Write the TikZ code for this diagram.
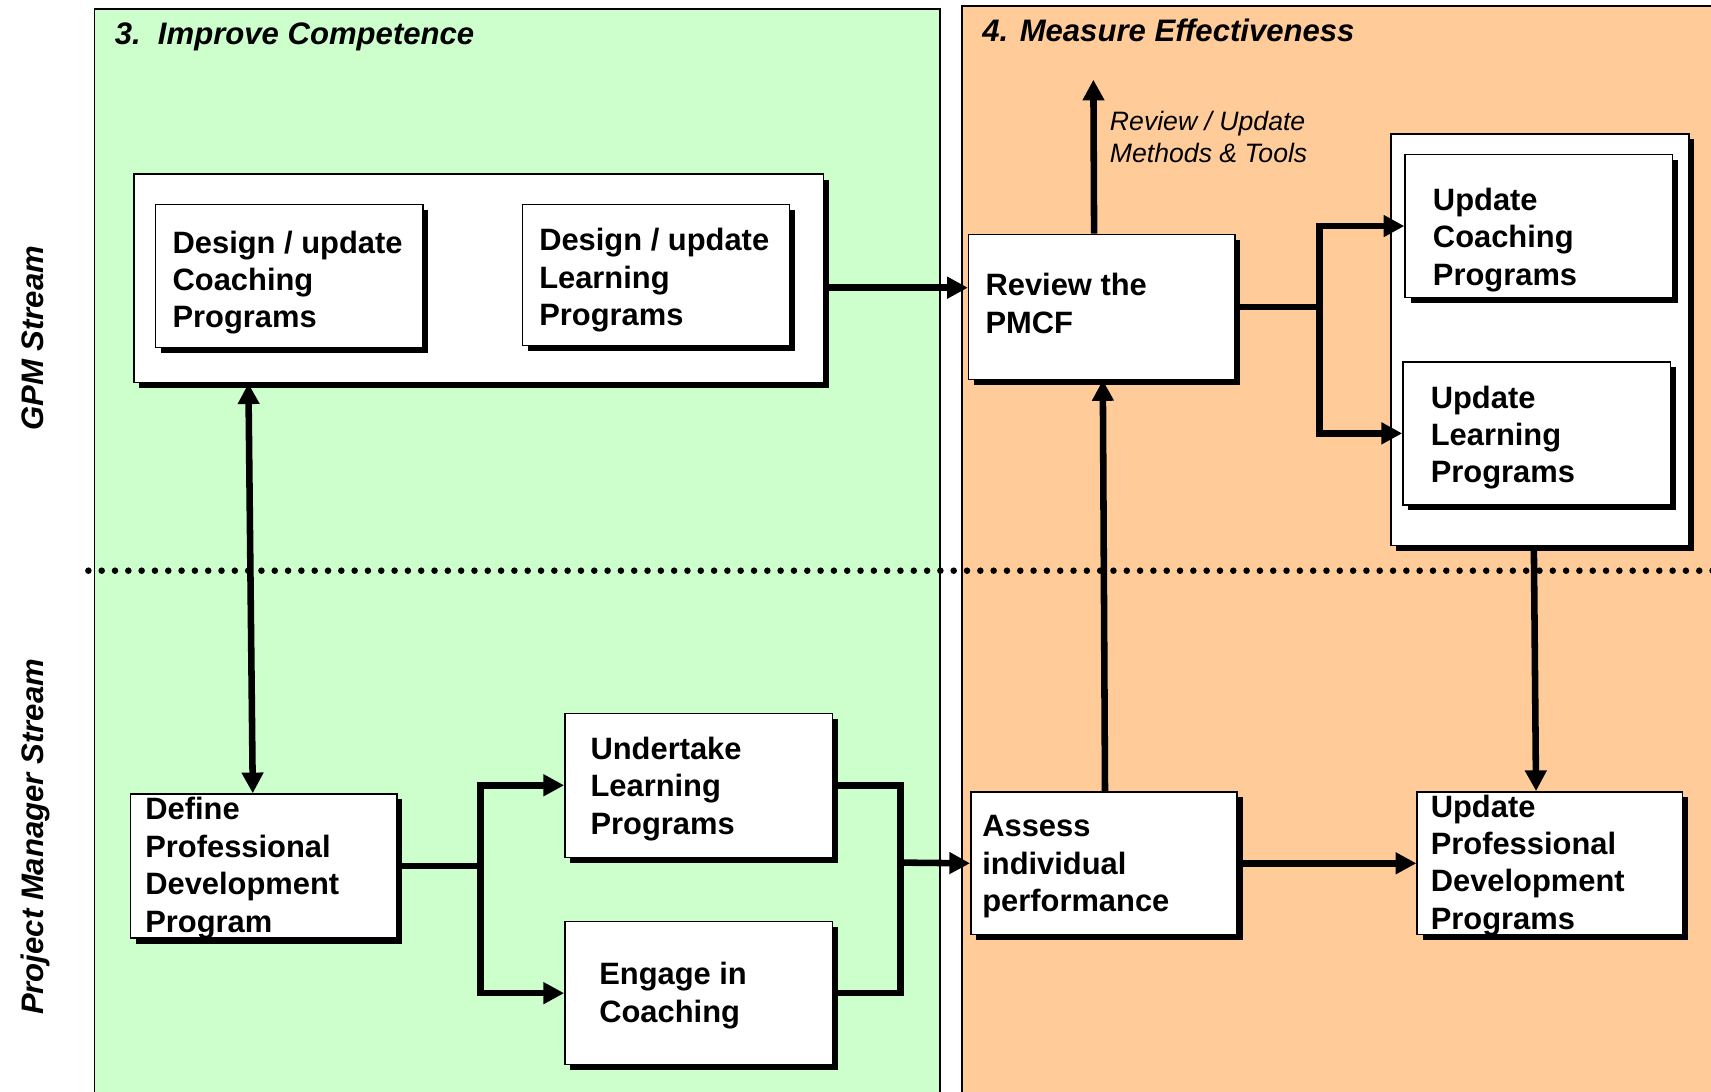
\documentclass[tikz,border=0pt]{standalone}
\usepackage{fontspec}
\setmainfont{Liberation Sans}
\usetikzlibrary{arrows.meta,shadows,calc}
\definecolor{panelgreen}{HTML}{CCFFCC}
\definecolor{panelorange}{HTML}{FFCC99}
\newcommand\boxfont{\fontsize{28.3pt}{34.3pt}\selectfont\bfseries}
\newcommand\headfont{\fontsize{28.5pt}{34pt}\selectfont\bfseries\itshape}
\newcommand\notefont{\fontsize{24.4pt}{29pt}\selectfont\itshape}

\begin{document}
\begin{tikzpicture}[x=1pt,y=-1pt,
  panel/.style={draw=black, line width=1.5pt},
  box/.style={draw=black, line width=1.3pt, fill=white, anchor=north west, inner sep=0pt,
    drop shadow={shadow xshift=5pt, shadow yshift=-5pt, opacity=1, fill=black}},
  lbl/.style={anchor=west, align=left, inner sep=0pt, font=\boxfont},
  head/.style={anchor=west, inner sep=0pt, font=\headfont},
  lane/.style={rotate=90, anchor=base, inner sep=0pt, font=\headfont},
  flow/.style={line width=6pt, -{Triangle[length=19pt,width=19pt]}},
  bus/.style={line width=6pt},
  both/.style={line width=6pt, {Triangle[length=19pt,width=19pt]}-{Triangle[length=19pt,width=19pt]}},
]
\useasboundingbox (0,0) rectangle (1568,1000);
\fill[white] (0,0) rectangle (1568,1000);

% the two phase panels
\draw[panel, fill=panelgreen]  (86.5,8) rectangle (861.5,1012);
\draw[panel, fill=panelorange] (881.5,5.5) rectangle (1585,1012);
\node[head] (h3) at (105,33.5) {3.\ \ Improve Competence};
\node[head] (h4) at (900,28) {4. Measure Effectiveness};

% stream labels and the divider between the streams
\node[lane] (gpmlane) at (40,310) {GPM Stream};
\node[lane] (pmlane)  at (40,767) {Project Manager Stream};
\draw[line width=6pt, line cap=round, dash pattern=on 0pt off 12.2pt] (81,523) -- (1570,523);

% GPM stream, phase 3
\node[box, minimum width=632pt, minimum height=191pt] (gpm) at (122,159) {};
\node[box, minimum width=245pt, minimum height=131pt] (dcoach) at (142,187) {};
\node[box, minimum width=245pt, minimum height=129pt] (dlearn) at (478,187) {};
\node[lbl] (t-dcoach) at (158,259) {Design / update\\Coaching\\Programs};
\node[lbl] (t-dlearn) at (494,257) {Design / update\\Learning\\Programs};

% GPM stream, phase 4
\node[box, minimum width=244pt, minimum height=133pt] (review) at (887,214) {};
\node[lbl] (t-review) at (903,278) {Review the\\PMCF};
\node[box, minimum width=273pt, minimum height=377pt] (rbox) at (1274,122) {};
\node[box, minimum width=245pt, minimum height=131pt] (ucoach) at (1287,141) {};
\node[box, minimum width=245pt, minimum height=131pt] (ulearn) at (1285,331) {};
\node[lbl] (t-ucoach) at (1313,220) {Update\\Coaching\\Programs};
\node[lbl] (t-ulearn) at (1311,401) {Update\\Learning\\Programs};
\node[anchor=west, align=left, inner sep=0pt, font=\notefont] (note) at (1017,125.5)
  {Review / Update\\Methods \& Tools};

% project manager stream
\node[box, minimum width=244pt, minimum height=132pt] (define) at (119,727) {};
\node[box, minimum width=245pt, minimum height=132pt] (undertake) at (517,653) {};
\node[box, minimum width=245pt, minimum height=131pt] (engage) at (517,844) {};
\node[box, minimum width=244pt, minimum height=131pt] (assess) at (889,725) {};
\node[box, minimum width=243pt, minimum height=131pt] (pdp) at (1298,725) {};
\node[lbl] (t-define) at (133,795.5) {Define\\Professional\\Development\\Program};
\node[lbl] (t-undertake) at (541,723) {Undertake\\Learning\\Programs};
\node[lbl] (t-engage) at (549,912.5) {Engage in\\Coaching};
\node[lbl] (t-assess) at (900,794.5) {Assess\\individual\\performance};
\node[lbl] (t-pdp) at (1311,793) {Update\\Professional\\Development\\Programs};

% connectors
\coordinate (rin) at ([yshift=17.5pt]review.west);
\draw[flow] (gpm.east |- rin) -- (rin);
\draw[both] ([xshift=-211pt]gpm.south) -- ([xshift=-10pt]define.north);
\coordinate (mtools) at (1002,73);
\draw[flow] ([xshift=-7pt]review.north) -- (mtools);
\draw[flow] (review.east) -- ++(77,0) |- (ucoach.west);
\draw[flow] (review.east) -- ++(77,0) |- (ulearn.west);
\draw[flow] ([xshift=1pt]assess.north) -- ([xshift=1pt]review.south);
\draw[flow] ([xshift=-5.5pt]rbox.south) -- ([xshift=-12.5pt]pdp.north);
\draw[flow] (define.east) -- ++(76,0) |- (undertake.west);
\draw[flow] (define.east) -- ++(76,0) |- (engage.west);
\coordinate (merge) at (825,790.5);
\draw[bus] (undertake.east) -| (merge) |- (engage.east);
\draw[flow] (merge) -- (assess.west);
\draw[flow] (assess.east) -- (assess.east -| pdp.west);
\end{tikzpicture}
\end{document}
